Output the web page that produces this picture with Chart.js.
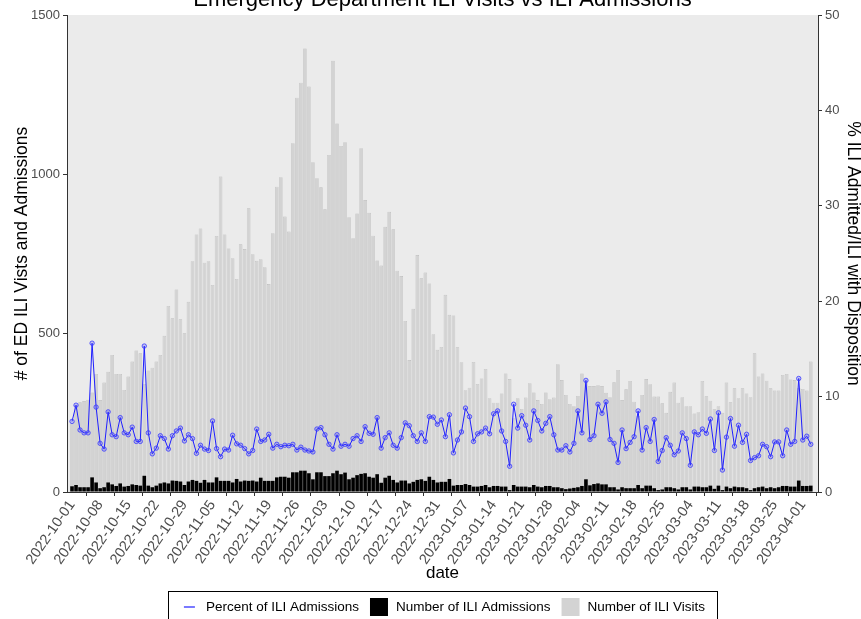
<!DOCTYPE html>
<html>
<head>
<meta charset="utf-8">
<script src="https://cdn.jsdelivr.net/npm/chart.js@4.4.0/dist/chart.umd.min.js"></script>
<style>
    html, body { margin: 0; padding: 0; background: #ffffff; }
    #wrap { width: 861px; height: 619px; }
</style>
</head>
<body>
<div id="wrap"><canvas id="iliChart" width="861" height="619"></canvas></div>
<script>
// daily series, first day 2022-10-01
var startDate = '2022-10-01';

var tickLabels = ['2022-10-01', '2022-10-08', '2022-10-15', '2022-10-22', '2022-10-29', '2022-11-05', '2022-11-12',
    '2022-11-19', '2022-11-26', '2022-12-03', '2022-12-10', '2022-12-17', '2022-12-24', '2022-12-31',
    '2023-01-07', '2023-01-14', '2023-01-21', '2023-01-28', '2023-02-04', '2023-02-11', '2023-02-18',
    '2023-02-25', '2023-03-04', '2023-03-11', '2023-03-18', '2023-03-25', '2023-04-01'];

var iliVisits = [
    216, 274, 282, 286, 290, 313, 371, 289, 344, 378, 431, 371, 371, 321, 363, 410, 445, 436, 340, 382,
    391, 410, 431, 491, 585, 546, 637, 543, 499, 598, 726, 810, 829, 721, 726, 651, 805, 992, 810, 766,
    735, 670, 779, 764, 892, 748, 727, 732, 707, 654, 814, 960, 990, 866, 819, 1097, 1240, 1287, 1395, 1275,
    1037, 987, 958, 889, 1060, 1356, 1159, 1088, 1100, 864, 798, 876, 1081, 918, 878, 806, 728, 712, 834, 881,
    826, 696, 679, 538, 415, 576, 745, 672, 690, 656, 496, 447, 456, 620, 557, 555, 455, 408, 320, 328,
    409, 340, 357, 387, 295, 281, 281, 310, 373, 355, 232, 295, 261, 297, 342, 313, 289, 277, 313, 292,
    297, 402, 352, 305, 277, 270, 302, 373, 347, 333, 333, 336, 333, 312, 298, 345, 384, 289, 323, 349,
    284, 239, 305, 355, 339, 300, 300, 279, 249, 315, 344, 281, 298, 270, 270, 247, 251, 349, 301, 287,
    260, 270, 249, 344, 282, 326, 295, 326, 310, 298, 436, 363, 373, 350, 326, 319, 319, 368, 371, 354,
    352, 326, 324, 319, 410
];

var iliAdmissions = [
    18, 22, 15, 15, 15, 46, 30, 12, 15, 30, 24, 19, 27, 17, 19, 24, 22, 20, 51, 20,
    15, 20, 27, 30, 27, 36, 35, 33, 22, 33, 38, 35, 29, 38, 30, 30, 46, 35, 35, 35,
    30, 41, 33, 36, 35, 36, 33, 45, 35, 35, 35, 46, 48, 48, 45, 62, 62, 67, 67, 59,
    40, 62, 62, 50, 50, 59, 67, 56, 61, 40, 45, 53, 57, 59, 48, 45, 56, 29, 45, 51,
    38, 30, 36, 36, 27, 32, 38, 40, 35, 48, 38, 30, 32, 32, 41, 20, 22, 22, 25, 22,
    17, 17, 19, 22, 15, 19, 19, 17, 17, 6, 22, 17, 17, 17, 15, 22, 17, 15, 19, 19,
    15, 15, 12, 9, 11, 13, 15, 19, 40, 21, 25, 27, 24, 24, 15, 15, 8, 15, 12, 12,
    12, 22, 12, 20, 20, 12, 6, 8, 15, 15, 12, 8, 15, 15, 8, 17, 17, 15, 15, 20,
    10, 20, 6, 17, 12, 17, 15, 15, 12, 6, 12, 15, 17, 12, 15, 12, 15, 19, 19, 17,
    17, 36, 19, 19, 20
];

var pctAdmitted = [
    7.4, 9.1, 6.5, 6.2, 6.2, 15.6, 8.9, 5.1, 4.5, 8.4, 6.0, 5.8, 7.8, 6.2, 6.0, 6.8, 5.3, 5.3, 15.3, 6.2,
    4.0, 4.6, 5.9, 5.6, 4.5, 5.9, 6.4, 6.7, 5.35, 6.0, 5.6, 4.05, 4.9, 4.5, 4.35, 7.45, 4.55, 3.7, 4.5, 4.4,
    5.95, 5.05, 4.9, 4.55, 4.0, 4.35, 6.6, 5.3, 5.45, 6.05, 4.6, 5.0, 4.75, 4.9, 4.85, 5.0, 4.4, 4.7, 4.4, 4.3,
    4.2, 6.6, 6.75, 6.0, 5.0, 4.5, 6.0, 4.8, 5.0, 4.8, 5.6, 5.9, 5.3, 6.85, 6.15, 6.05, 7.8, 4.6, 5.7, 6.2,
    4.9, 4.6, 5.7, 7.25, 6.95, 5.9, 5.3, 6.2, 5.3, 7.9, 7.85, 7.1, 7.55, 5.8, 8.1, 4.1, 5.45, 6.3, 8.8, 7.9,
    5.3, 6.1, 6.3, 6.7, 6.1, 8.2, 8.5, 6.4, 5.3, 2.7, 9.2, 6.7, 8.0, 7.0, 5.45, 8.5, 7.5, 6.4, 7.2, 7.9,
    6.0, 4.4, 4.4, 4.85, 4.2, 5.1, 8.5, 6.2, 11.7, 5.5, 5.9, 9.2, 8.25, 9.45, 5.5, 5.1, 3.1, 6.5, 4.55, 5.2,
    5.8, 8.5, 4.4, 6.75, 5.3, 7.6, 3.2, 4.35, 5.7, 4.9, 3.9, 4.3, 6.2, 5.6, 2.8, 6.3, 6.0, 6.6, 6.15, 7.65,
    4.35, 8.3, 2.3, 5.75, 7.7, 4.8, 7.0, 5.2, 6.05, 3.3, 3.6, 3.8, 5.0, 4.75, 3.7, 5.25, 5.25, 3.8, 6.5, 5.0,
    5.3, 11.9, 5.45, 5.85, 5.0
];

var FONT = '"Liberation Sans", Arial, Helvetica, sans-serif';

document.addEventListener("DOMContentLoaded", function () {
    // list of every day in the series
    var dates = [];
    var t0 = Date.parse(startDate + 'T00:00:00Z');
    for (var i = 0; i < iliVisits.length; i++) {
        dates.push(new Date(t0 + i * 86400000).toISOString().slice(0, 10));
    }
    var tickDays = tickLabels.map(function (lab) { return dates.indexOf(lab); });

    function toPoints(arr) {
        return arr.map(function (v, i) { return { x: i, y: v }; });
    }

    // grey panel behind the bars
    var panelBg = {
        id: 'panelBg',
        beforeDraw: function (chart) {
            var ctx = chart.ctx, a = chart.chartArea;
            ctx.save();
            ctx.fillStyle = '#ffffff';
            ctx.fillRect(0, 0, chart.width, chart.height);
            ctx.fillStyle = '#ebebeb';
            ctx.fillRect(a.left, a.top, a.right - a.left, a.bottom - a.top);
            ctx.restore();
        }
    };

    // title is cut by the top edge in the original
    var topTitle = {
        id: 'topTitle',
        afterDraw: function (chart) {
            var ctx = chart.ctx, a = chart.chartArea;
            ctx.save();
            ctx.font = '22px ' + FONT;
            ctx.fillStyle = '#000000';
            ctx.textAlign = 'center';
            ctx.textBaseline = 'alphabetic';
            ctx.fillText('Emergency Department ILI Visits vs ILI Admissions', (a.left + a.right) / 2, 6);
            ctx.restore();
        }
    };

    // boxed legend under the x axis title
    var boxLegend = {
        id: 'boxLegend',
        afterDraw: function (chart) {
            var ctx = chart.ctx, a = chart.chartArea;
            var sym = 18, gapIn = 8, gapOut = 11, padX = 12;
            ctx.save();
            ctx.font = '13.5px ' + FONT;
            var items = chart.data.datasets.map(function (ds) {
                return {
                    label: ds.label,
                    isLine: ds.type === 'line',
                    color: ds.type === 'line' ? ds.borderColor : ds.backgroundColor,
                    w: ctx.measureText(ds.label).width
                };
            });
            var total = 0;
            items.forEach(function (it, i) {
                total += sym + gapIn + it.w + (i < items.length - 1 ? gapOut : 0);
            });
            var cx = (a.left + a.right) / 2;
            var top = a.bottom + 99;
            var boxL = Math.round(cx - total / 2 - padX) + 0.5;
            ctx.strokeStyle = '#000000';
            ctx.lineWidth = 1;
            ctx.strokeRect(boxL, top + 0.5, Math.round(total + 2 * padX), 40);

            var x = cx - total / 2, cy = top + 16;
            items.forEach(function (it) {
                if (it.isLine) {
                    ctx.strokeStyle = it.color;
                    ctx.lineWidth = 1.2;
                    ctx.beginPath();
                    ctx.moveTo(x + 4, cy);
                    ctx.lineTo(x + 15, cy);
                    ctx.stroke();
                } else {
                    ctx.fillStyle = it.color;
                    ctx.fillRect(x, cy - 9, sym, sym);
                }
                ctx.fillStyle = '#000000';
                ctx.textAlign = 'left';
                ctx.textBaseline = 'middle';
                ctx.fillText(it.label, x + sym + gapIn, cy);
                x += sym + gapIn + it.w + gapOut;
            });
            ctx.restore();
        }
    };

    var axisColor = '#333333';
    var tickColor = '#4d4d4d';
    var plainNumber = function (value) { return String(value); };

    var ctx = document.getElementById('iliChart').getContext('2d');
    var chart = new Chart(ctx, {
        data: {
            datasets: [{
                type: 'line',
                label: 'Percent of ILI Admissions',
                data: toPoints(pctAdmitted),
                yAxisID: 'y2',
                borderColor: '#1f1fff',
                borderWidth: 1,
                tension: 0,
                pointRadius: 2.2,
                pointBorderWidth: 0.8,
                pointBorderColor: '#3a3aff',
                pointBackgroundColor: 'rgba(80, 80, 255, 0.25)',
                order: 0
            },
            {
                type: 'bar',
                label: 'Number of ILI Admissions',
                data: toPoints(iliAdmissions),
                yAxisID: 'y',
                backgroundColor: '#000000',
                borderWidth: 0,
                grouped: false,
                categoryPercentage: 0.9,
                barPercentage: 1.0,
                order: 1
            },
            {
                type: 'bar',
                label: 'Number of ILI Visits',
                data: toPoints(iliVisits),
                yAxisID: 'y',
                backgroundColor: '#d3d3d3',
                borderColor: '#bcbcbc',
                borderWidth: 0.6,
                grouped: false,
                categoryPercentage: 0.9,
                barPercentage: 1.0,
                order: 2
            }]
        },
        options: {
            responsive: false,
            animation: false,
            layout: { padding: { top: 15, bottom: 28, left: 0, right: 0 } },
            plugins: {
                legend: { display: false },
                tooltip: { enabled: false }
            },
            scales: {
                x: {
                    type: 'linear',
                    min: -1.25,
                    max: 185.8,
                    offset: false,
                    afterBuildTicks: function (scale) {
                        scale.ticks = tickDays.map(function (d) { return { value: d }; });
                    },
                    afterFit: function (scale) { scale.height = 99; },
                    ticks: {
                        autoSkip: false,
                        minRotation: 55,
                        maxRotation: 55,
                        padding: 1,
                        color: tickColor,
                        font: { family: FONT, size: 14.5 },
                        callback: function (value) { return dates[value]; }
                    },
                    grid: { display: true, drawOnChartArea: false, drawTicks: true, tickLength: 4, color: axisColor },
                    border: { display: true, color: axisColor, width: 1 },
                    title: {
                        display: true,
                        text: 'date',
                        color: '#000000',
                        font: { family: FONT, size: 17 },
                        padding: { top: 0, bottom: 7 }
                    }
                },
                y: {
                    position: 'left',
                    min: 0,
                    max: 1500,
                    afterFit: function (scale) { scale.width = 67; },
                    ticks: {
                        stepSize: 500,
                        padding: 3,
                        color: tickColor,
                        font: { family: FONT, size: 13 },
                        callback: plainNumber
                    },
                    grid: { display: true, drawOnChartArea: false, drawTicks: true, tickLength: 4, color: axisColor },
                    border: { display: true, color: axisColor, width: 1 },
                    title: {
                        display: true,
                        text: '# of ED ILI Vists and Admissions',
                        color: '#000000',
                        font: { family: FONT, size: 17.5 },
                        padding: { top: 12, bottom: 0 }
                    }
                },
                y2: {
                    position: 'right',
                    min: 0,
                    max: 50,
                    afterFit: function (scale) { scale.width = 43; },
                    ticks: {
                        stepSize: 10,
                        padding: 3,
                        color: tickColor,
                        font: { family: FONT, size: 13 },
                        callback: plainNumber
                    },
                    grid: { display: true, drawOnChartArea: false, drawTicks: true, tickLength: 4, color: axisColor },
                    border: { display: true, color: axisColor, width: 1 },
                    title: {
                        display: true,
                        text: '% ILI Admitted/ILI with Disposition',
                        color: '#000000',
                        font: { family: FONT, size: 17.5 },
                        padding: { top: -2, bottom: 0 }
                    }
                }
            }
        },
        plugins: [panelBg, topTitle, boxLegend]
    });
});
</script>
</body>
</html>
